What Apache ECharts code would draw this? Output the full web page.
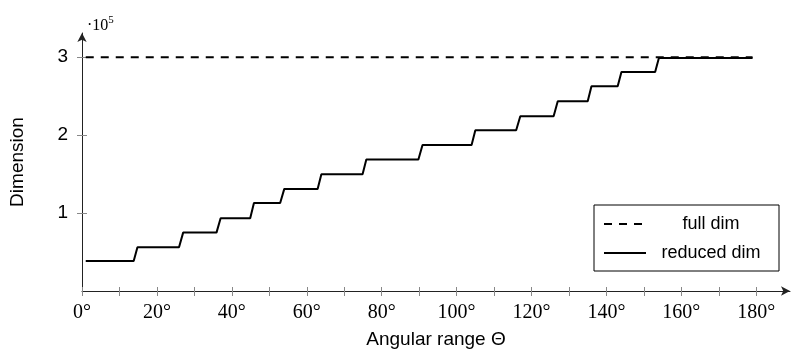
<!DOCTYPE html>
<html>
<head>
<meta charset="utf-8">
<script src="https://cdn.jsdelivr.net/npm/echarts@6/dist/echarts.min.js"></script>
<style>
  html, body { margin: 0; padding: 0; background: #fff; }
  #chart { width: 793px; height: 358px; }
</style>
</head>
<body>
<div id="chart"></div>
<script>
// Full dimension (constant)
const fullAngles = [1, 179];
const fullDims = [300000, 300000];

// Reduced dimension: staircase, each step has a short ramp
const reducedAngles = [
  1, 13.8, 14.8, 25.9, 27, 35.9, 37, 44.9, 45.9, 52.9, 54, 62.9, 63.9, 74.9,
  75.9, 89.8, 90.9, 104, 105, 115.9, 117, 125.9, 127, 135, 136, 143, 144, 153,
  154, 179
];
const reducedDims = [
  38500, 38500, 56000, 56000, 74900, 74900, 93400, 93400, 113000, 113000,
  131000, 131000, 149800, 149800, 168600, 168600, 187400, 187400, 206300,
  206300, 224300, 224300, 243500, 243500, 262800, 262800, 281000, 281000,
  299000, 299000
];

const xTicks = [0, 10, 20, 30, 40, 50, 60, 70, 80, 90, 100, 110, 120, 130, 140, 150, 160, 170, 180];
const xLabels = [0, 20, 40, 60, 80, 100, 120, 140, 160, 180];
const yTicks = [100000, 200000, 300000];

const zip = (xs, ys) => xs.map((x, i) => [x, ys[i]]);

const chart = echarts.init(document.getElementById("chart"));

const SANS = "Liberation Sans";
const SERIF = "Liberation Serif";

chart.setOption({
  animation: false,
  backgroundColor: "#fff",
  title: {
    text: "·10{s|5}",
    left: 82,
    top: 10,
    textStyle: {
      fontFamily: SERIF,
      fontSize: 16,
      fontWeight: "normal",
      color: "#000",
      rich: {
        s: { fontFamily: SERIF, fontSize: 11, color: "#000", verticalAlign: "top", padding: [0, 0, 10, 0] }
      }
    }
  },
  grid: {
    left: 82,
    right: 3,
    top: 33,
    bottom: 67
  },
  legend: {
    orient: "vertical",
    left: 594,
    top: 205,
    padding: [10, 8, 9, 9],
    itemWidth: 42,
    itemHeight: 14,
    itemGap: 11,
    itemTextGap: 6,
    borderColor: "#000",
    borderWidth: 1,
    borderRadius: 0,
    itemStyle: { opacity: 0 },
    formatter: "{t|{name}}",
    textStyle: {
      rich: {
        t: { fontFamily: SANS, fontSize: 18, color: "#000", width: 120, align: "center", lineHeight: 20 }
      }
    },
    data: ["full dim", "reduced dim"]
  },
  xAxis: [
    {
      type: "value",
      min: 0,
      max: 189,
      name: "Angular range Θ",
      nameLocation: "middle",
      nameGap: 39,
      nameTextStyle: { fontFamily: SANS, fontSize: 19, color: "#000" },
      axisLine: {
        show: true,
        symbol: ["none", "arrow"],
        symbolSize: [7, 9],
        lineStyle: { color: "#222", width: 1 }
      },
      axisTick: {
        show: true,
        length: 5,
        customValues: xTicks,
        lineStyle: { color: "#888", width: 1 }
      },
      axisLabel: {
        customValues: xLabels,
        formatter: (v) => v + "°",
        fontFamily: SERIF,
        fontSize: 20,
        color: "#000",
        margin: 12
      },
      splitLine: { show: false }
    },
    {
      // inside half of the crossing ticks
      type: "value",
      position: "bottom",
      min: 0,
      max: 189,
      axisLine: { show: false },
      axisTick: {
        show: true,
        inside: true,
        length: 4,
        customValues: xTicks,
        lineStyle: { color: "#888", width: 1 }
      },
      axisLabel: { show: false },
      splitLine: { show: false }
    }
  ],
  yAxis: [
    {
      type: "value",
      min: 0,
      max: 331000,
      name: "Dimension",
      nameLocation: "middle",
      nameGap: 55,
      nameTextStyle: { fontFamily: SANS, fontSize: 19, color: "#000" },
      axisLine: {
        show: true,
        symbol: ["none", "arrow"],
        symbolSize: [7, 9],
        lineStyle: { color: "#222", width: 1 }
      },
      axisTick: {
        show: true,
        length: 5,
        customValues: yTicks,
        lineStyle: { color: "#888", width: 1 }
      },
      axisLabel: {
        customValues: yTicks,
        formatter: (v) => String(v / 100000),
        fontFamily: SANS,
        fontSize: 19,
        color: "#000",
        margin: 14
      },
      splitLine: { show: false }
    },
    {
      type: "value",
      position: "left",
      min: 0,
      max: 331000,
      axisLine: { show: false },
      axisTick: {
        show: true,
        inside: true,
        length: 5,
        customValues: yTicks,
        lineStyle: { color: "#888", width: 1 }
      },
      axisLabel: { show: false },
      splitLine: { show: false }
    }
  ],
  series: [
    {
      name: "full dim",
      type: "line",
      data: zip(fullAngles, fullDims),
      symbol: "none",
      lineStyle: { color: "#000", width: 2, type: [8, 7] },
      itemStyle: { color: "#000" },
      z: 3
    },
    {
      name: "reduced dim",
      type: "line",
      data: zip(reducedAngles, reducedDims),
      symbol: "none",
      lineStyle: { color: "#000", width: 2 },
      itemStyle: { color: "#000" },
      z: 4
    }
  ]
});
</script>
</body>
</html>
